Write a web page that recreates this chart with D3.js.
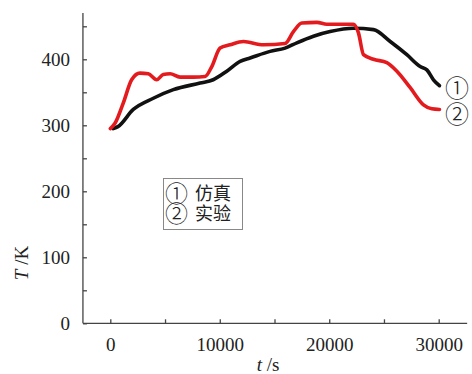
<!DOCTYPE html>
<html>
<head>
<meta charset="utf-8">
<script src="https://cdn.jsdelivr.net/npm/d3@7"></script>
<style>
  html, body { margin: 0; padding: 0; background: #fff; }
  svg { display: block; }
  .tick text { font-family: "Liberation Serif", "Times New Roman", serif; font-size: 19px; fill: #222; }
</style>
</head>
<body>
<svg id="chart" width="472" height="374"></svg>
<script>
// Simulation (①) temperature curve: time in s, temperature in K
const simTime = [270, 700, 2100, 3930, 5760, 8200, 9400, 10640, 11860, 12770, 14600, 15970, 17040, 18560, 20080, 22200, 24040, 25570, 27090, 28310, 28920, 29520, 30070];
const simTemp = [295, 298, 324, 341, 354, 364, 369, 382, 397, 402, 412, 417, 425, 435, 442, 447, 445, 427, 407, 389, 384, 369, 360];

// Experiment (②) temperature curve
const expTime = [0, 430, 1190, 1950, 2710, 3470, 4240, 4840, 5460, 6370, 7590, 8660, 9270, 10030, 10940, 12160, 13990, 15970, 16730, 17500, 18870, 19780, 22200, 22670, 23130, 24040, 25260, 26180, 27400, 28610, 29370, 30070];
const expTemp = [295, 303, 334, 369, 379, 378, 369, 377, 378, 373, 373, 374, 389, 417, 422, 427, 422, 424, 442, 455, 456, 453, 453, 440, 407, 400, 395, 382, 357, 331, 325, 324];

const xMajor = [0, 10000, 20000, 30000];
const xMinor = [5000, 15000, 25000];
const yMajor = [0, 100, 200, 300, 400];
const yMinor = [50, 150, 250, 350, 450];

const legendMarks = ["①", "②"];
const legendNames = ["仿真", "实验"];

const svg = d3.select("#chart");

const x = d3.scaleLinear().domain([0, 30000]).range([110.3, 438.7]);
const y = d3.scaleLinear().domain([0, 400]).range([323.3, 59.3]);

const axisColor = "#444";
const xAxisY = y(0);
const yAxisX = x(-2500);

// Axis lines
svg.append("line")
  .attr("x1", yAxisX).attr("x2", yAxisX)
  .attr("y1", y(0)).attr("y2", y(470))
  .attr("stroke", axisColor).attr("stroke-width", 1.3);
svg.append("line")
  .attr("x1", yAxisX).attr("x2", x(32600))
  .attr("y1", xAxisY).attr("y2", xAxisY)
  .attr("stroke", axisColor).attr("stroke-width", 1.3);

// Y axis: inward ticks with labels on the left
const yAxis = d3.axisLeft(y)
  .tickValues(yMajor.concat(yMinor))
  .tickSizeInner(-4)
  .tickSizeOuter(0)
  .tickPadding(13)
  .tickFormat(d => yMajor.includes(d) ? d3.format("d")(d) : "");
const gy = svg.append("g").attr("transform", `translate(${yAxisX},0)`).call(yAxis);
gy.select(".domain").remove();
gy.selectAll(".tick line").attr("stroke", axisColor).attr("stroke-width", 1.3);

// X axis: inward ticks with labels below
const xAxis = d3.axisBottom(x)
  .tickValues(xMajor.concat(xMinor))
  .tickSizeInner(-4)
  .tickSizeOuter(0)
  .tickPadding(13)
  .tickFormat(d => xMajor.includes(d) ? d3.format("d")(d) : "");
const gx = svg.append("g").attr("transform", `translate(0,${xAxisY})`).call(xAxis);
gx.select(".domain").remove();
gx.selectAll(".tick line").attr("stroke", axisColor).attr("stroke-width", 1.3);
gx.selectAll(".tick text").attr("dy", "0.75em");

// Axis titles
const yTitle = svg.append("text")
  .attr("transform", "translate(28,263) rotate(-90)")
  .attr("text-anchor", "middle")
  .attr("font-family", "Liberation Serif, serif")
  .attr("font-size", 19)
  .attr("fill", "#222");
yTitle.append("tspan").attr("font-style", "italic").text("T");
yTitle.append("tspan").text(" /K");

const xTitle = svg.append("text")
  .attr("x", 268).attr("y", 371)
  .attr("text-anchor", "middle")
  .attr("font-family", "Liberation Serif, serif")
  .attr("font-size", 19)
  .attr("fill", "#222");
xTitle.append("tspan").attr("font-style", "italic").text("t");
xTitle.append("tspan").text(" /s");

// Curves
const line = d3.line().curve(d3.curveMonotoneX);
const simPts = simTime.map((t, i) => [x(t), y(simTemp[i])]);
const expPts = expTime.map((t, i) => [x(t), y(expTemp[i])]);

svg.append("path")
  .attr("d", line(simPts))
  .attr("fill", "none")
  .attr("stroke", "#111")
  .attr("stroke-width", 3.6)
  .attr("stroke-linejoin", "round")
  .attr("stroke-linecap", "round");

svg.append("path")
  .attr("d", line(expPts))
  .attr("fill", "none")
  .attr("stroke", "#e31b1e")
  .attr("stroke-width", 3.6)
  .attr("stroke-linejoin", "round")
  .attr("stroke-linecap", "round");

const cjkFont = "Noto Sans CJK SC, sans-serif";

// Curve end labels, stacked in one text block
const endY = [88, 114];
const endText = svg.append("text")
  .attr("font-family", cjkFont)
  .attr("font-size", 24)
  .attr("font-weight", 300)
  .attr("text-anchor", "middle")
  .attr("fill", "#222");
endText.selectAll("tspan")
  .data(legendMarks)
  .enter().append("tspan")
  .attr("x", 457)
  .attr("y", (d, i) => endY[i])
  .attr("dy", "0.36em")
  .text(d => d);

// Legend box
svg.append("rect")
  .attr("x", 163.5).attr("y", 178.5)
  .attr("width", 79).attr("height", 51)
  .attr("fill", "#fff")
  .attr("stroke", "#888")
  .attr("stroke-width", 1);

// Legend rows: circled number followed by the series name
const rowY = [194, 214];
const legendText = svg.append("text")
  .attr("font-family", cjkFont)
  .attr("fill", "#222");
legendNames.forEach((name, i) => {
  legendText.append("tspan")
    .attr("x", 165)
    .attr("y", rowY[i])
    .attr("dy", "0.36em")
    .attr("font-size", 23)
    .attr("font-weight", 300)
    .text(legendMarks[i]);
  legendText.append("tspan")
    .attr("x", 195)
    .attr("y", rowY[i])
    .attr("dy", "0.36em")
    .attr("font-size", 18)
    .text(name);
});
</script>
</body>
</html>
